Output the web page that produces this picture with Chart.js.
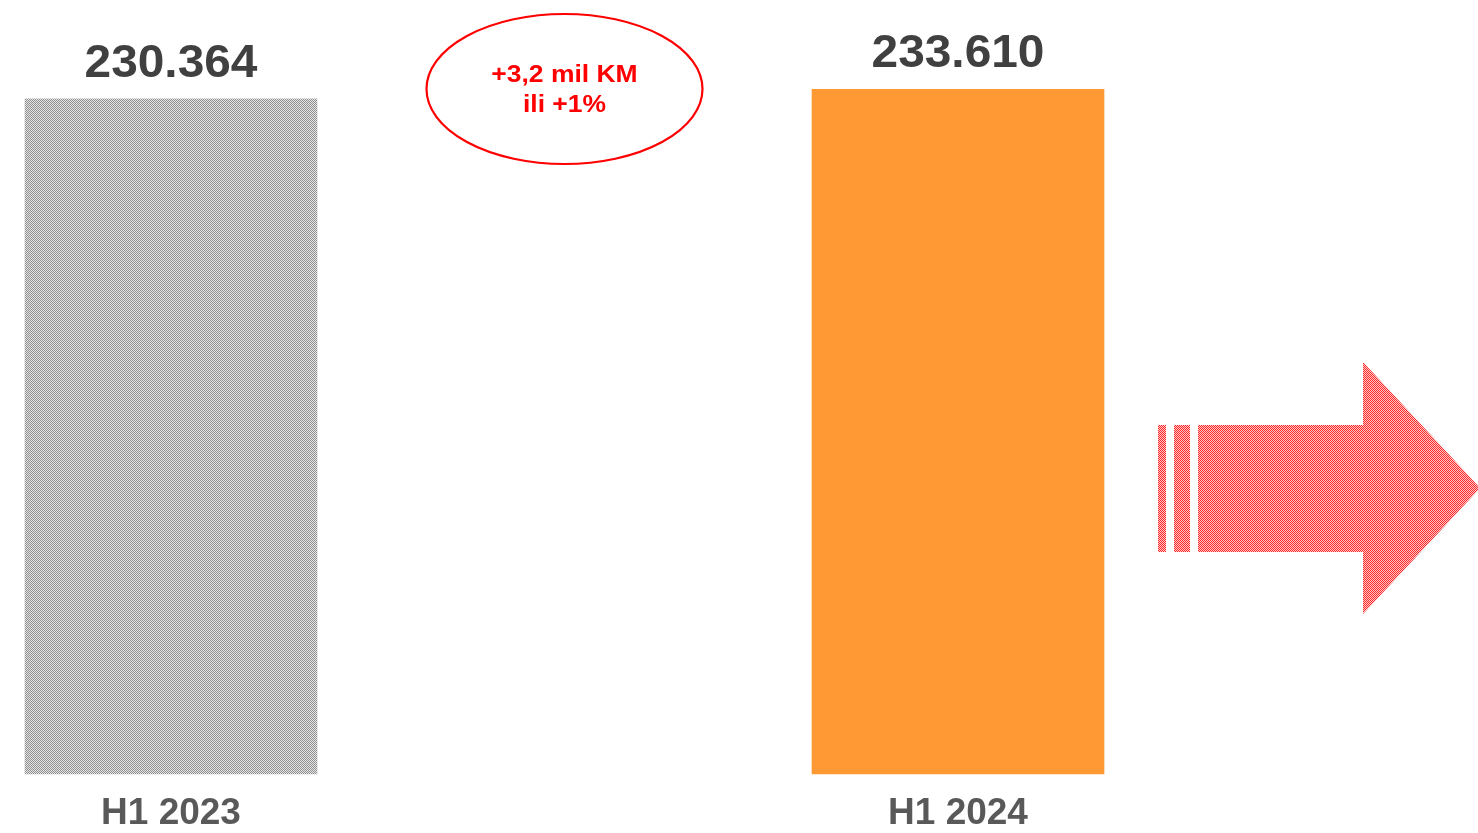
<!DOCTYPE html>
<html>
<head>
<meta charset="utf-8">
<script src="https://cdn.jsdelivr.net/npm/chart.js@4/dist/chart.umd.min.js"></script>
<style>
  html, body { margin: 0; padding: 0; background: #ffffff; overflow: hidden; }
  canvas { display: block; }
</style>
</head>
<body>
<canvas id="c" width="1478" height="833"></canvas>
<script>
// ---- data ----
const categories = ['H1 2023', '', 'H1 2024'];
const values = [230364, null, 233610];
const valueLabels = ['230.364', '', '233.610'];
const annotationLines = ['+3,2 mil KM', 'ili +1%'];

function makePattern(c1, c2) {
  const p = document.createElement('canvas');
  p.width = 2; p.height = 2;
  const g = p.getContext('2d');
  g.fillStyle = c2; g.fillRect(0, 0, 2, 2);
  g.fillStyle = c1; g.fillRect(0, 0, 1, 1); g.fillRect(1, 1, 1, 1);
  return document.getElementById('c').getContext('2d').createPattern(p, 'repeat');
}
const grayPattern = makePattern('#8f8f8f', '#e6e6e6');
const redPattern = makePattern('#ff2a2a', '#ffc4c4');

const FONT = '"Liberation Sans", Arial, sans-serif';

function stretchedText(ctx, text, x, y, sx) {
  ctx.save();
  ctx.translate(x, y);
  ctx.scale(sx, 1);
  ctx.fillText(text, 0, 0);
  ctx.restore();
}

const decorPlugin = {
  id: 'decor',
  afterDatasetsDraw(chart) {
    const ctx = chart.ctx;
    const xs = chart.scales.x;
    const meta = chart.getDatasetMeta(0);
    // value labels
    ctx.save();
    ctx.font = 'bold 46px ' + FONT;
    ctx.fillStyle = '#404040';
    ctx.textAlign = 'center';
    ctx.textBaseline = 'alphabetic';
    meta.data.forEach((bar, i) => {
      if (values[i] == null) return;
      stretchedText(ctx, valueLabels[i], bar.x, bar.y - 22, 1.04);
    });
    ctx.restore();

    // ellipse annotation centred on the middle category
    const cx = xs.getPixelForValue(1);
    const cy = chart.chartArea.top + 77;
    ctx.save();
    ctx.beginPath();
    ctx.ellipse(cx, cy, 138, 75, 0, 0, Math.PI * 2);
    ctx.strokeStyle = '#ff0000';
    ctx.lineWidth = 2.2;
    ctx.stroke();
    ctx.font = 'bold 23px ' + FONT;
    ctx.fillStyle = '#ff0000';
    ctx.textAlign = 'center';
    ctx.textBaseline = 'middle';
    stretchedText(ctx, annotationLines[0], cx, cy - 13, 1.15);
    stretchedText(ctx, annotationLines[1], cx, cy + 17, 1.15);
    ctx.restore();

    // decorative arrow on the right
    ctx.save();
    ctx.fillStyle = redPattern;
    ctx.fillRect(1158, 425, 8, 127);
    ctx.fillRect(1174, 425, 16, 127);
    ctx.beginPath();
    ctx.moveTo(1198, 425);
    ctx.lineTo(1363, 425);
    ctx.lineTo(1363, 362);
    ctx.lineTo(1480, 488);
    ctx.lineTo(1363, 614);
    ctx.lineTo(1363, 552);
    ctx.lineTo(1198, 552);
    ctx.closePath();
    ctx.fill();
    ctx.restore();
  }
};

new Chart(document.getElementById('c'), {
  type: 'bar',
  data: {
    labels: categories,
    datasets: [{
      data: values,
      backgroundColor: [grayPattern, 'rgba(0,0,0,0)', '#ff9933'],
      borderWidth: 0,
      barThickness: 292,
      clip: false
    }]
  },
  options: {
    responsive: false,
    animation: false,
    devicePixelRatio: 1,
    layout: { padding: { left: 171, right: 520, top: 12, bottom: -21.4 } },
    plugins: { legend: { display: false }, tooltip: { enabled: false } },
    scales: {
      x: {
        offset: false,
        grid: { display: false, drawTicks: false },
        border: { display: false },
        ticks: {
          color: '#595959',
          padding: 18,
          maxRotation: 0,
          autoSkip: false,
          font: { family: FONT, size: 37, weight: 'bold', lineHeight: 1.2 }
        }
      },
      y: {
        display: false,
        min: 0,
        max: 260000
      }
    }
  },
  plugins: [decorPlugin]
});
</script>
</body>
</html>
